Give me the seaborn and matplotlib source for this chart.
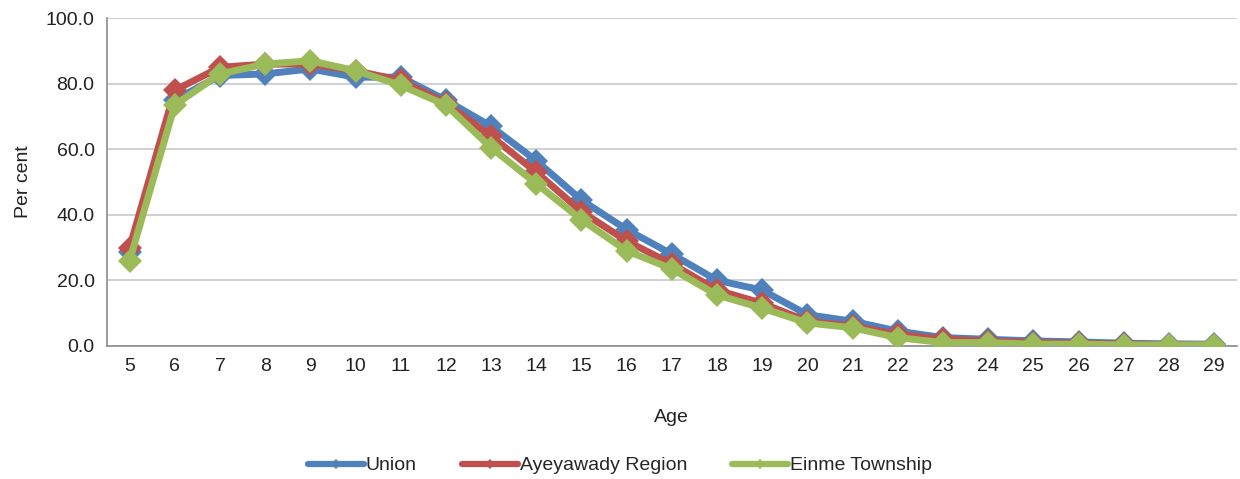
import matplotlib
matplotlib.use("Agg")
import matplotlib.pyplot as plt
from matplotlib.lines import Line2D
from matplotlib.ticker import FormatStrFormatter, FixedLocator
import seaborn as sns
import pandas as pd
import numpy as np

ages = list(range(5, 30))
union = [28.5, 75.0, 82.5, 83.0, 84.5, 82.0, 82.0, 75.0, 67.0, 56.5, 44.5, 35.5, 28.0,
         20.0, 17.0, 9.5, 7.5, 4.5, 2.5, 2.0, 1.5, 1.2, 0.8, 0.6, 0.5]
ayeyawady = [30.0, 78.0, 85.0, 86.0, 86.0, 84.0, 81.0, 74.0, 64.0, 53.0, 41.0, 32.0, 25.0,
             17.0, 13.0, 7.5, 6.0, 3.5, 2.0, 1.5, 1.0, 0.8, 0.5, 0.4, 0.3]
einme = [26.0, 73.5, 83.0, 86.0, 87.0, 84.0, 79.5, 73.5, 60.5, 49.5, 38.5, 29.0, 23.5,
         15.5, 11.5, 7.0, 5.5, 2.5, 1.0, 1.0, 0.5, 0.5, 0.3, 0.3, 0.3]
series_names = ["Union", "Ayeyawady Region", "Einme Township"]
colors = ["#4F81BD", "#C0504D", "#9BBB59"]

df = pd.DataFrame({
    "Age": ages * 3,
    "Per cent": union + ayeyawady + einme,
    "Area": [series_names[0]] * len(ages) + [series_names[1]] * len(ages) + [series_names[2]] * len(ages),
})

sns.set_style("white")
plt.rcParams["font.family"] = ["Liberation Sans", "DejaVu Sans"]

fig = plt.figure(figsize=(12.4, 4.79), dpi=100)
ax = fig.add_axes([0.0863, 0.278, 0.911, 0.684])

ax.yaxis.grid(True, color="#C8C8C8", linewidth=1.2)
ax.set_axisbelow(True)

sns.lineplot(data=df, x="Age", y="Per cent", hue="Area", palette=colors,
             marker="D", markersize=12, markeredgewidth=0, linewidth=5,
             ax=ax, legend=False, zorder=3)

ax.set_xlim(4.5, 29.5)
ax.set_ylim(0, 100)
ax.set_yticks(np.arange(0, 101, 20))
ax.yaxis.set_major_formatter(FormatStrFormatter("%.1f"))
ax.set_xticks(ages)
ax.set_xticklabels([str(a) for a in ages])
ax.xaxis.set_minor_locator(FixedLocator(np.arange(4.5, 30.0, 1.0)))

for s in ["top", "right"]:
    ax.spines[s].set_visible(False)
for s in ["left", "bottom"]:
    ax.spines[s].set_color("#8C8C8C")
    ax.spines[s].set_linewidth(1.2)

fs = 14
ax.tick_params(axis="x", which="major", length=0, pad=9, labelsize=fs, colors="#222222")
ax.tick_params(axis="x", which="minor", length=6, width=1.2, color="#8C8C8C")
ax.tick_params(axis="y", which="major", length=5, width=1.2, color="#8C8C8C",
               labelsize=fs, labelcolor="#222222", pad=4)

ax.set_xlabel("Age", fontsize=fs, color="#222222", labelpad=24)
ax.set_ylabel("Per cent", fontsize=fs, color="#222222", labelpad=10)

handles = [Line2D([0], [0], color=c, linewidth=4.5, marker="D", markersize=5, markeredgewidth=0)
           for c in colors]
fig.legend(handles, series_names, loc="center", bbox_to_anchor=(0.5, 0.028), ncol=3,
           frameon=False, fontsize=fs, handlelength=2.9, handletextpad=0.1, columnspacing=2.3)

fig.savefig("out.png", dpi=100, facecolor="white")
